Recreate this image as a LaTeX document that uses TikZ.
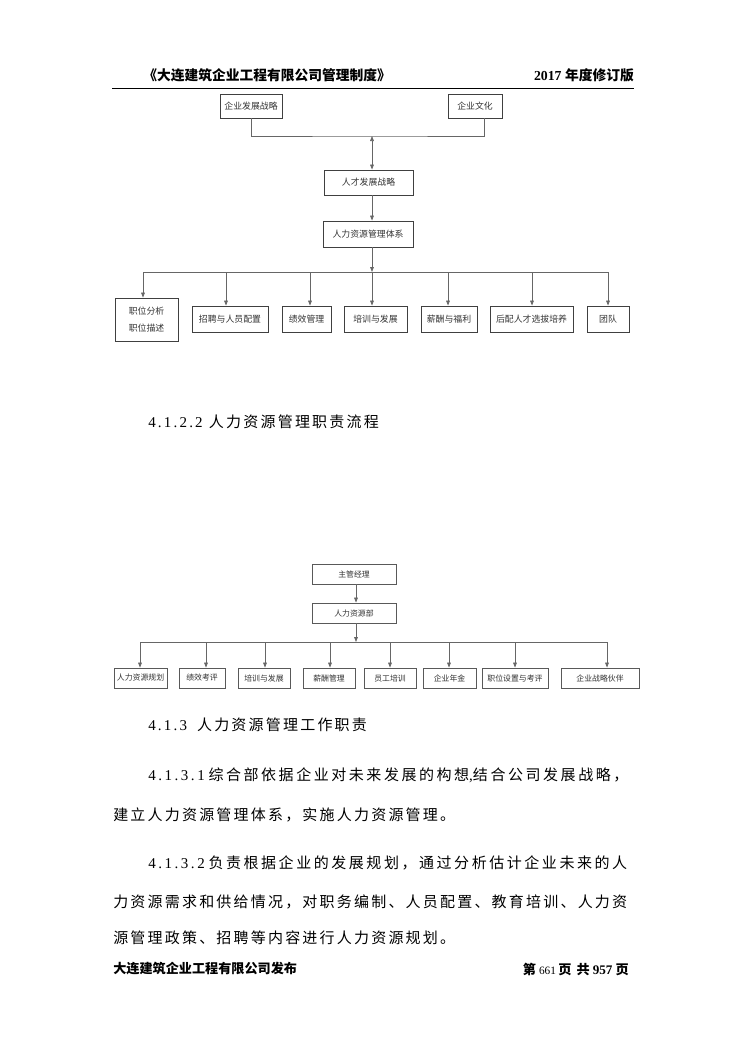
\documentclass[tikz,border=0pt]{standalone}
\usepackage{fontspec}
\setmainfont{Liberation Serif}
\newfontfamily\cjk{Noto Sans CJK SC}
\newfontfamily\cjkbody[LetterSpace=14.7]{Noto Sans CJK SC}
\newfontfamily\numbody[LetterSpace=14.7]{Liberation Serif}
\newfontfamily\cjkjust[LetterSpace=17]{Noto Sans CJK SC}
\newfontfamily\numjust[LetterSpace=17]{Liberation Serif}
\usetikzlibrary{positioning,arrows.meta,calc}
\newcommand\pxu{0.8pt}
\tikzset{
   chart/.style={>={Triangle[length=4pt,width=3pt]},
   x=0.8pt,
   y=-0.8pt},
 link/.style={draw=black!60,line width=0.6pt},
 box/.style={rectangle,draw=black!75,line width=0.7pt,inner sep=0pt,
   align=center,text=black!80,font=\cjk\fontsize{7.1}{9}\selectfont},
 rowbox/.style={box,minimum height=26*\pxu},
 smallbox/.style={box,draw=black!65,minimum height=20*\pxu,
   font=\cjk\fontsize{6.3}{8}\selectfont},
 bodyline/.style={anchor=west,inner sep=0pt,font=\fontsize{12}{14}\selectfont},
 pagehead/.style={inner sep=0pt,font=\fontsize{11}{13}\selectfont}
 }
\begin{document}
\begin{tikzpicture}[chart]
      \useasboundingbox (0,0) rectangle (744,1052);
      % page header
      \node[pagehead,anchor=west] (title) at (143,75) {\cjk\bfseries 《大连建筑企业工程有限公司管理制度》};
      \node[pagehead,anchor=east] (edition) at (634,75) {\bfseries 2017 {\cjk 年度修订版}};
      \coordinate (ruleL) at (112,88);
      \coordinate (ruleR) at (634,88);
      \draw[line width=0.8pt] (ruleL) -- (ruleR);
      % first chart
      \node[box,minimum width=62*\pxu,minimum height=24*\pxu] (strat) at (251,106) {企业发展战略};
      \node[box,minimum width=54*\pxu,minimum height=24*\pxu] (cult) at (475,106) {企业文化};
      \node[box,minimum width=89*\pxu,minimum height=25*\pxu] (talent) at (368.5,182.5) {人才发展战略};
      \node[box,minimum width=90*\pxu,minimum height=26*\pxu] (sys) at (368,234) {人力资源管理体系};
      \node[box,minimum width=63*\pxu,minimum height=43*\pxu,
            font=\cjk\fontsize{7.1}{13.6}\selectfont] (pos) at (146.5,319.5) {职位分析\\职位描述};
      \node[rowbox,minimum width=76*\pxu] (recr) at (230,319) {招聘与人员配置};
      \node[rowbox,minimum width=49*\pxu] (perf) at (306.5,319) {绩效管理};
      \node[rowbox,minimum width=63*\pxu] (train) at (375.5,319) {培训与发展};
      \node[rowbox,minimum width=56*\pxu] (pay) at (449,319) {薪酬与福利};
      \node[rowbox,minimum width=83*\pxu] (succ) at (531.5,319) {后配人才选拔培养};
      \node[rowbox,minimum width=42*\pxu] (team) at (608,319) {团队};
      \coordinate (topbus) at (372,136);
      \coordinate (sysbus) at (372,272);
      \coordinate (d1) at (143,272);
      \coordinate (d2) at (226,272);
      \coordinate (d3) at (310,272);
      \coordinate (d4) at (372,272);
      \coordinate (d5) at (448,272);
      \coordinate (d6) at (532,272);
      \coordinate (d7) at (608,272);
      \draw[link] (strat.south) |- (topbus) -| ([xshift=9*\pxu]cult.south);
      \draw[link,<->] (topbus) -- (topbus |- talent.north);
      \draw[link,->] (topbus |- talent.south) -- (topbus |- sys.north);
      \draw[link,->] (topbus |- sys.south) -- (sysbus);
      \draw[link] (d1) -- (d7);
      \draw[link,->] (d1) -- (d1 |- pos.north);
      \draw[link,->] (d2) -- (d2 |- recr.north);
      \draw[link,->] (d3) -- (d3 |- perf.north);
      \draw[link,->] (d4) -- (d4 |- train.north);
      \draw[link,->] (d5) -- (d5 |- pay.north);
      \draw[link,->] (d6) -- (d6 |- succ.north);
      \draw[link,->] (d7) -- (d7 |- team.north);
      % heading between the charts
      \node[bodyline] (sec1) at (148,422) {\numbody 4.1.2.2\hspace{5pt}\cjkbody 人力资源管理职责流程};
      % second chart
      \node[smallbox,minimum width=84*\pxu] (mgr) at (354,574) {主管经理};
      \node[smallbox,minimum width=84*\pxu] (hrd) at (354,613) {人力资源部};
      \node[smallbox,minimum width=53*\pxu] (plan) at (140.5,678) {人力资源规划};
      \node[smallbox,minimum width=46*\pxu] (eval) at (202,678) {绩效考评};
      \node[smallbox,minimum width=52*\pxu] (dev) at (264,678) {培训与发展};
      \node[smallbox,minimum width=52*\pxu] (sal) at (329,678) {薪酬管理};
      \node[smallbox,minimum width=52*\pxu] (staff) at (390,678) {员工培训};
      \node[smallbox,minimum width=53*\pxu] (annu) at (449.5,678) {企业年金};
      \node[smallbox,minimum width=66*\pxu] (post) at (515,678) {职位设置与考评};
      \node[smallbox,minimum width=78*\pxu] (partner) at (600,678) {企业战略伙伴};
      \coordinate (hrdbus) at (356,642);
      \coordinate (e1) at (140,642);
      \coordinate (e2) at (206,642);
      \coordinate (e3) at (265,642);
      \coordinate (e4) at (330,642);
      \coordinate (e5) at (390,642);
      \coordinate (e6) at (449,642);
      \coordinate (e7) at (515,642);
      \coordinate (e8) at (607,642);
      \draw[link,->] (hrdbus |- mgr.south) -- (hrdbus |- hrd.north);
      \draw[link,->] (hrdbus |- hrd.south) -- (hrdbus);
      \draw[link] (e1) -- (e8);
      \draw[link,->] (e1) -- (e1 |- plan.north);
      \draw[link,->] (e2) -- (e2 |- eval.north);
      \draw[link,->] (e3) -- (e3 |- dev.north);
      \draw[link,->] (e4) -- (e4 |- sal.north);
      \draw[link,->] (e5) -- (e5 |- staff.north);
      \draw[link,->] (e6) -- (e6 |- annu.north);
      \draw[link,->] (e7) -- (e7 |- post.north);
      \draw[link,->] (e8) -- (e8 |- partner.north);
      % body text
      \node[bodyline] (sec2) at (148,725) {\numbody 4.1.3\hspace{8pt}\cjkbody 人力资源管理工作职责};
      \node[bodyline] (p1a) at (148,775) {\numjust 4.1.3.1\hspace{3pt}\cjkjust 综合部依据企业对未来发展的构想\numjust,\cjkjust 结合公司发展战略，};
      \node[bodyline] (p1b) at (113,815) {\cjkbody 建立人力资源管理体系，实施人力资源管理。};
      \node[bodyline] (p2a) at (148,863) {\numjust 4.1.3.2\hspace{3pt}\cjkjust 负责根据企业的发展规划，通过分析估计企业未来的人};
      \node[bodyline] (p2b) at (113,902) {\cjkbody 力资源需求和供给情况，对职务编制、人员配置、教育培训、人力资};
      \node[bodyline] (p2c) at (113,938) {\cjkbody 源管理政策、招聘等内容进行人力资源规划。};
      % page footer
      \node[pagehead,anchor=west,font=\fontsize{10.5}{13}\selectfont] (issuer) at (113,969) {\cjk\bfseries 大连建筑企业工程有限公司发布};
      \node[pagehead,anchor=east,font=\fontsize{10.5}{13}\selectfont] (pageno) at (629,969) {{\cjk\bfseries 第}\hspace{2.5pt}{\fontsize{9}{10}\selectfont 661}\hspace{2pt}{\cjk\bfseries 页}\hspace{4pt}{\cjk\bfseries 共}\hspace{2.5pt}{\bfseries 957}\hspace{2.5pt}{\cjk\bfseries 页}};
    \end{tikzpicture}
\end{document}
